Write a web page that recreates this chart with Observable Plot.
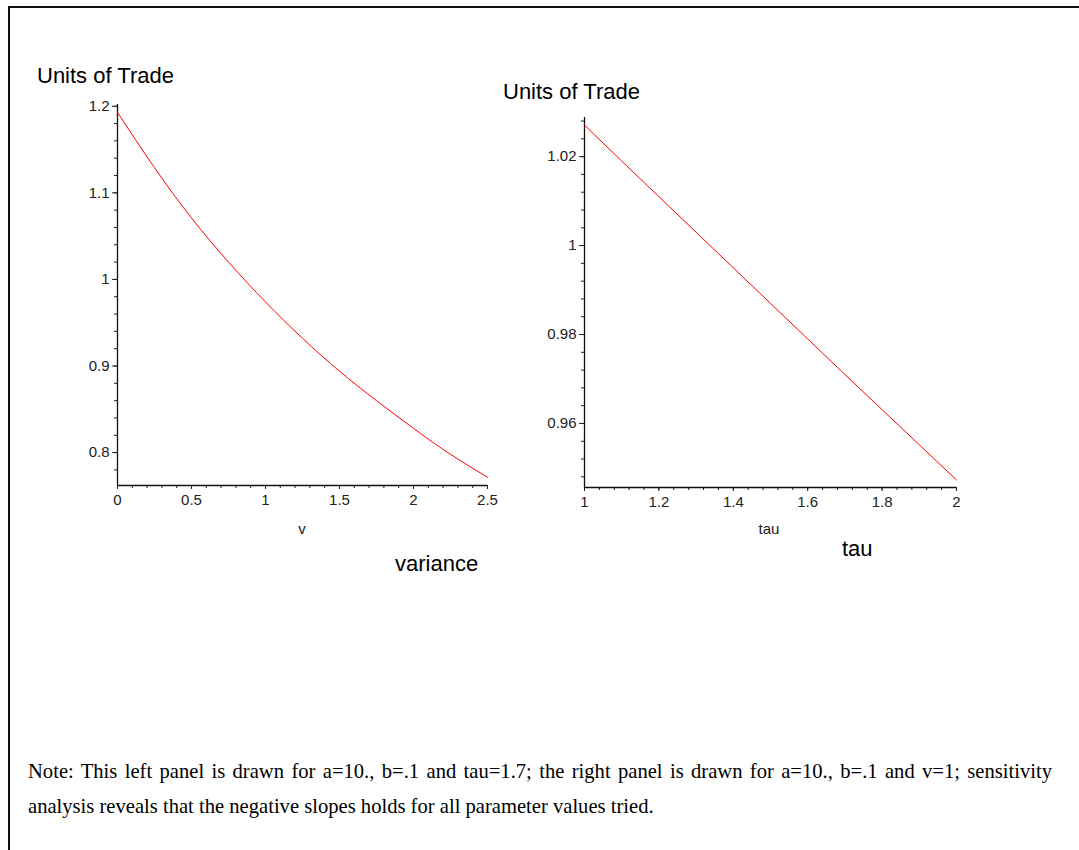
<!DOCTYPE html>
<html><head><meta charset="utf-8">
<script src="https://cdn.jsdelivr.net/npm/d3@7"></script>
<script src="https://cdn.jsdelivr.net/npm/@observablehq/plot@0.6"></script>
<style>
html,body{margin:0;padding:0;background:#fff;}
body{width:1079px;height:850px;overflow:hidden;position:relative;font-family:"Liberation Sans",Arial,sans-serif;}
.abs{position:absolute;}
#frame{left:8px;top:6px;width:1200px;height:1000px;border-top:2px solid #111;border-left:2px solid #111;}
.big{font-size:22px;line-height:22px;color:#000;white-space:nowrap;}
.small{font-size:15px;line-height:15px;color:#222;white-space:nowrap;transform:translateX(-50%);}
.note{left:28px;width:1024px;font-family:"Liberation Serif","Times New Roman",serif;font-size:20.6px;line-height:35px;color:#000;white-space:nowrap;}
#note1{top:754px;text-align:justify;text-align-last:justify;}
#note2{top:789px;text-align:left;}
svg{position:absolute;overflow:visible;}
</style>
</head><body>
<div id="frame" class="abs"></div>
<div class="abs big" style="left:37px;top:65px;">Units of Trade</div>
<div class="abs big" style="left:503px;top:81px;">Units of Trade</div>
<div class="abs small" style="left:302px;top:521px;">v</div>
<div class="abs small" style="left:769px;top:521px;">tau</div>
<div class="abs big" style="left:395px;top:553px;">variance</div>
<div class="abs big" style="left:842px;top:538px;">tau</div>
<div id="note1" class="abs note">Note: This left panel is drawn for a=10., b=.1 and tau=1.7; the right panel is drawn for a=10., b=.1 and v=1; sensitivity</div>
<div id="note2" class="abs note">analysis reveals that the negative slopes holds for all parameter values tried.</div>
<div id="left"></div>
<div id="right"></div>
<script>
// Left panel: units of trade vs variance v
const leftV = [0, 0.25, 0.5, 0.75, 1.0, 1.25, 1.5, 1.75, 2.0, 2.25, 2.5];
const leftUnits = [1.193, 1.129, 1.071, 1.020, 0.974, 0.932, 0.894, 0.860, 0.828, 0.798, 0.7715];
const leftXTicks = [0, 0.5, 1, 1.5, 2, 2.5];
const leftXMinor = [0,0.1,0.2,0.3,0.4,0.5,0.6,0.7,0.8,0.9,1,1.1,1.2,1.3,1.4,1.5,1.6,1.7,1.8,1.9,2,2.1,2.2,2.3,2.4,2.5];
const leftYTicks = [0.8, 0.9, 1, 1.1, 1.2];
const leftYMinor = [0.78,0.8,0.82,0.84,0.86,0.88,0.9,0.92,0.94,0.96,0.98,1,1.02,1.04,1.06,1.08,1.1,1.12,1.14,1.16,1.18,1.2];

// Right panel: units of trade vs tau
const rightTau = [1, 1.1, 1.2, 1.3, 1.4, 1.5, 1.6, 1.7, 1.8, 1.9, 2];
const rightUnits = [1.0271, 1.0190, 1.0110, 1.0030, 0.9950, 0.9870, 0.9790, 0.9710, 0.9631, 0.9552, 0.9473];
const rightXTicks = [1, 1.2, 1.4, 1.6, 1.8, 2];
const rightXMinor = [1,1.04,1.08,1.12,1.16,1.2,1.24,1.28,1.32,1.36,1.4,1.44,1.48,1.52,1.56,1.6,1.64,1.68,1.72,1.76,1.8,1.84,1.88,1.92,1.96,2];
const rightYTicks = [0.96, 0.98, 1, 1.02];
const rightYMinor = [0.948,0.952,0.956,0.96,0.964,0.968,0.972,0.976,0.98,0.984,0.988,0.992,0.996,1,1.004,1.008,1.012,1.016,1.02,1.024,1.028];

const style = {fontFamily: "'Liberation Sans', Arial, sans-serif", fontSize: "15px", color: "#222", background: "transparent", overflow: "visible"};
const fmt = d => String(d);

function panel({xs, ys, xDomain, yDomain, xTicks, xMinor, yTicks, yMinor, width, height, margins}) {
  const data = xs.map((x, i) => ({x, y: ys[i]}));
  return Plot.plot({
    width, height, ...margins,
    style,
    x: {domain: xDomain},
    y: {domain: yDomain},
    marks: [
      Plot.axisX(xMinor, {tickSize: 3, tickFormat: () => "", label: null, stroke: "#222"}),
      Plot.axisX(xTicks, {tickSize: 4, tickPadding: 5, tickFormat: fmt, label: null, stroke: "#222", fill: "#222"}),
      Plot.axisY(yMinor, {tickSize: 3, tickFormat: () => "", label: null, stroke: "#222"}),
      Plot.axisY(yTicks, {tickSize: 5, tickPadding: 3, tickFormat: fmt, label: null, stroke: "#222", fill: "#222"}),
      Plot.ruleX([xDomain[0]], {stroke: "#111", strokeWidth: 1.3}),
      Plot.ruleY([yDomain[0]], {stroke: "#111", strokeWidth: 1.3}),
      Plot.line(data, {x: "x", y: "y", stroke: "#ff0000", strokeWidth: 1, curve: "natural"})
    ]
  });
}

const left = panel({
  xs: leftV, ys: leftUnits, xDomain: [0, 2.5], yDomain: [0.762, 1.202],
  xTicks: leftXTicks, xMinor: leftXMinor, yTicks: leftYTicks, yMinor: leftYMinor,
  width: 540, height: 600,
  margins: {marginLeft: 117, marginRight: 53, marginTop: 104, marginBottom: 115}
});
left.style.left = "0px"; left.style.top = "0px";
document.getElementById("left").appendChild(left);

const right = panel({
  xs: rightTau, ys: rightUnits, xDomain: [1, 2], yDomain: [0.9456, 1.0288],
  xTicks: rightXTicks, xMinor: rightXMinor, yTicks: rightYTicks, yMinor: rightYMinor,
  width: 460, height: 600,
  margins: {marginLeft: 44, marginRight: 44, marginTop: 117, marginBottom: 113}
});
right.style.left = "540px"; right.style.top = "0px";
document.getElementById("right").appendChild(right);
</script>
</body></html>
